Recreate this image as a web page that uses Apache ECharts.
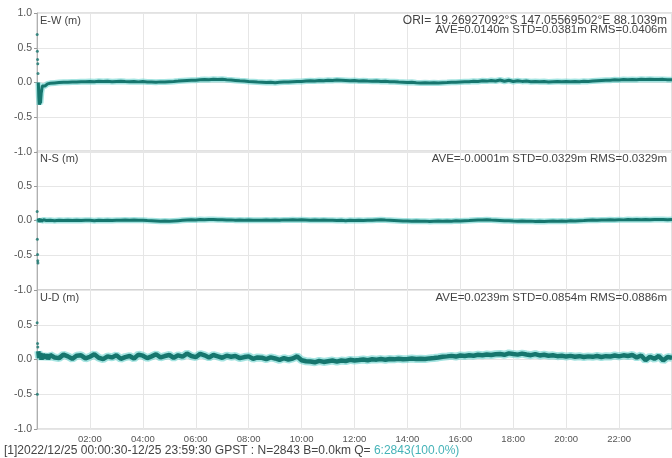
<!DOCTYPE html>
<html>
<head>
<meta charset="utf-8">
<script src="https://cdn.jsdelivr.net/npm/echarts@6/dist/echarts.min.js"></script>
<style>
  html, body { margin: 0; padding: 0; background: #ffffff; }
  #chart { width: 672px; height: 458px; }
</style>
</head>
<body>
<div id="chart"></div>
<script>
// Position solution, 2022/12/25, components in metres versus GPST hours.
const panelNames = ['E-W (m)', 'N-S (m)', 'U-D (m)'];
const statLines = [
  ['ORI= 19.26927092°S 147.05569502°E 88.1039m', 'AVE=0.0140m STD=0.0381m RMS=0.0406m'],
  ['AVE=-0.0001m STD=0.0329m RMS=0.0329m'],
  ['AVE=0.0239m STD=0.0854m RMS=0.0886m']
];
const yTicks = [-1.0, -0.5, 0.0, 0.5, 1.0];
const xTickHours = [2, 4, 6, 8, 10, 12, 14, 16, 18, 20, 22];
const footerText = '[1]2022/12/25 00:00:30-12/25 23:59:30 GPST : N=2843 B=0.0km Q= ';
const footerQuality = '6:2843(100.0%)';

// Regular samples: first at 00:30, then every 10 minutes up to 24:00.
const sampleStart = 0.5;
const sampleStep = 1 / 6;

// Convergence period at the start of the day: [hour, metres]
const ewEarlyDots = [[0.006, 0.69], [0.014, 0.45], [0.022, 0.33], [0.030, 0.27], [0.038, 0.13]];
const ewEarlyLine = [[0.05, 0.0], [0.07, -0.2], [0.09, -0.32], [0.11, -0.25], [0.13, -0.3],
  [0.16, -0.15], [0.2, -0.05], [0.25, -0.03], [0.3, -0.05], [0.4, -0.02]];
const ewValues = [
  -0.012, -0.006, 0.000, 0.004, 0.002, 0.008,
  0.006, 0.012, 0.010, 0.015, 0.012, 0.018,
  0.014, 0.017, 0.012, 0.016, 0.019, 0.013,
  0.010, 0.014, 0.009, 0.013, 0.008, 0.006,
  0.004, 0.009, 0.006, 0.012, 0.015, 0.020,
  0.026, 0.030, 0.034, 0.031, 0.038, 0.042,
  0.040, 0.046, 0.043, 0.048, 0.041, 0.036,
  0.030, 0.024, 0.020, 0.014, 0.010, 0.006,
  0.004, 0.000, 0.003, -0.002, 0.002, 0.006,
  0.008, 0.012, 0.016, 0.014, 0.020, 0.024,
  0.022, 0.028, 0.026, 0.032, 0.030, 0.036,
  0.034, 0.030, 0.026, 0.028, 0.022, 0.024,
  0.020, 0.018, 0.021, 0.015, 0.017, 0.012,
  0.010, 0.006, 0.004, 0.000, 0.002, -0.004,
  -0.006, -0.002, -0.007, -0.004, -0.008, -0.003,
  0.000, 0.004, 0.002, 0.008, 0.012, 0.010,
  0.018, 0.014, 0.024, 0.020, 0.030, 0.022,
  0.036, 0.018, 0.032, 0.014, 0.026, 0.016,
  0.020, 0.012, 0.016, 0.010, 0.014, 0.008,
  0.012, 0.016, 0.010, 0.014, 0.011, 0.015,
  0.012, 0.018, 0.016, 0.022, 0.026, 0.030,
  0.034, 0.032, 0.038, 0.036, 0.042, 0.040,
  0.044, 0.041, 0.046, 0.043, 0.047, 0.044,
  0.042, 0.045, 0.040, 0.038
];

const nsEarlyDots = [[0.006, 0.13], [0.014, -0.27], [0.022, -0.49], [0.030, -0.58], [0.036, -0.61]];
const nsEarlyLine = [[0.05, 0.03], [0.08, -0.02], [0.12, 0.02], [0.17, -0.01], [0.25, 0.01], [0.35, 0.0]];
const nsValues = [
  0.004, -0.002, 0.003, 0.000, 0.005, 0.001,
  0.003, -0.001, 0.004, 0.002, -0.002, 0.003,
  0.000, 0.004, 0.001, 0.005, 0.002, 0.006,
  0.003, 0.007, 0.002, 0.004, 0.000, -0.003,
  -0.006, -0.010, -0.008, -0.012, -0.006, -0.002,
  0.002, 0.006, 0.010, 0.008, 0.014, 0.012,
  0.016, 0.013, 0.010, 0.012, 0.007, 0.009,
  0.005, 0.008, 0.004, 0.006, 0.002, 0.005,
  0.003, 0.007, 0.004, 0.008, 0.005, 0.009,
  0.006, 0.010, 0.007, 0.011, 0.008, 0.005,
  0.007, 0.003, 0.006, 0.002, 0.004, 0.000,
  0.003, -0.002, 0.002, 0.000, 0.004, 0.001,
  0.005, 0.002, 0.007, 0.010, 0.006, 0.003,
  0.000, -0.004, -0.008, -0.006, -0.010, -0.008,
  -0.012, -0.009, -0.013, -0.010, -0.008, -0.011,
  -0.007, -0.010, -0.005, -0.008, -0.003, 0.000,
  0.004, 0.008, 0.006, 0.011, 0.007, 0.004,
  0.000, -0.004, -0.002, -0.007, -0.010, -0.008,
  -0.012, -0.009, -0.013, -0.010, -0.014, -0.011,
  -0.008, -0.012, -0.007, -0.010, -0.005, -0.008,
  -0.004, -0.001, 0.003, 0.006, 0.004, 0.008,
  0.006, 0.010, 0.008, 0.012, 0.009, 0.013,
  0.010, 0.014, 0.011, 0.015, 0.012, 0.016,
  0.013, 0.015, 0.012, 0.014
];

const udEarlyDots = [[0.006, 0.53], [0.014, -0.5], [0.022, 0.23], [0.030, 0.18]];
const udEarlyLine = [[0.05, 0.12], [0.08, 0.02], [0.12, 0.09], [0.17, 0.0], [0.22, 0.08],
  [0.28, 0.02], [0.35, 0.07], [0.42, 0.01]];
const udValues = [
  0.065, 0.030, 0.020, 0.070, 0.045, 0.010,
  0.055, 0.060, 0.015, 0.040, 0.075, 0.025,
  0.005, 0.045, 0.030, 0.060, 0.010, 0.035,
  0.050, 0.015, 0.070, 0.055, 0.020, 0.045,
  0.075, 0.030, 0.050, 0.065, 0.025, 0.060,
  0.040, 0.085, 0.050, 0.035, 0.080, 0.060,
  0.030, 0.065, 0.045, 0.025, 0.055, 0.040,
  0.050, 0.020, 0.035, 0.045, 0.010, 0.030,
  0.025, 0.005, 0.030, 0.015, -0.005, 0.020,
  0.000, 0.015, 0.045, -0.010, -0.025, -0.030,
  -0.040, -0.020, -0.035, -0.025, -0.015, -0.030,
  -0.015, -0.022, -0.005, -0.015, -0.008, 0.000,
  -0.010, 0.004, -0.002, 0.006, -0.004, 0.008,
  0.002, 0.012, 0.004, 0.008, 0.014, 0.006,
  0.012, 0.006, 0.016, 0.022, 0.030, 0.040,
  0.045, 0.052, 0.042, 0.058, 0.050, 0.062,
  0.055, 0.068, 0.060, 0.072, 0.064, 0.075,
  0.080, 0.068, 0.088, 0.078, 0.070, 0.085,
  0.072, 0.062, 0.078, 0.058, 0.068, 0.055,
  0.060, 0.048, 0.055, 0.042, 0.052, 0.040,
  0.048, 0.035, 0.045, 0.038, 0.050, 0.036,
  0.048, 0.042, 0.058, 0.045, 0.060, 0.050,
  0.065, 0.030, 0.058, -0.010, 0.040, 0.010,
  0.050, -0.015, 0.035, 0.025
];

const panels = [
  { early: ewEarlyLine, dots: ewEarlyDots, values: ewValues, core: 3, halo: 6 },
  { early: nsEarlyLine, dots: nsEarlyDots, values: nsValues, core: 3, halo: 6 },
  { early: udEarlyLine, dots: udEarlyDots, values: udValues, core: 4.5, halo: 8 }
];

function buildTrace(p) {
  const pts = p.early.map(d => [d[0], d[1]]);
  p.values.forEach((v, i) => pts.push([sampleStart + i * sampleStep, v]));
  return pts;
}

const FONT = 'Liberation Sans';
const labelColor = '#555555';
const textColor = '#444444';
const coreColor = '#16766e';
const haloColor = 'rgba(90, 205, 200, 0.55)';

const gridTops = [13, 151, 290];
const gridH = 139;

const grids = gridTops.map(t => ({
  left: 37, right: -1, top: t, height: gridH,
  show: true, borderColor: '#c4c4c4', borderWidth: 1, backgroundColor: '#ffffff'
}));

const xAxes = gridTops.map((t, i) => ({
  type: 'value', gridIndex: i, min: 0, max: 24, interval: 2,
  axisLine: { show: false },
  axisTick: { show: false },
  splitLine: { show: true, lineStyle: { color: '#e6e6e6', width: 1 } },
  axisLabel: {
    show: i === 2, showMinLabel: false, showMaxLabel: false,
    color: labelColor, fontFamily: FONT, fontSize: 9.5, margin: 5,
    formatter: v => xTickHours.indexOf(v) >= 0 ? String(v).padStart(2, '0') + ':00' : ''
  }
}));

const yAxes = gridTops.map((t, i) => ({
  type: 'value', gridIndex: i, min: yTicks[0], max: yTicks[yTicks.length - 1], interval: 0.5,
  axisLine: { show: true, lineStyle: { color: '#b0b0b0' } },
  axisTick: { show: true, length: 3, lineStyle: { color: '#999' } },
  splitLine: { show: true, lineStyle: { color: '#e6e6e6', width: 1 } },
  axisLabel: {
    color: labelColor, fontFamily: FONT, fontSize: 10.5, margin: 5,
    showMaxLabel: i === 0,
    formatter: v => v.toFixed(1)
  }
}));

const series = [];
panels.forEach((p, i) => {
  const trace = buildTrace(p);
  series.push({
    type: 'line', xAxisIndex: i, yAxisIndex: i, data: trace,
    showSymbol: false, silent: true, animation: false,
    lineStyle: { color: haloColor, width: p.halo }
  });
  series.push({
    type: 'line', xAxisIndex: i, yAxisIndex: i, data: trace,
    showSymbol: false, silent: true, animation: false,
    lineStyle: { color: coreColor, width: p.core }
  });
  series.push({
    type: 'scatter', xAxisIndex: i, yAxisIndex: i, data: p.dots,
    symbolSize: 3, silent: true, animation: false,
    itemStyle: { color: coreColor }
  });
});

const graphics = [];
panelNames.forEach((name, i) => {
  graphics.push({
    type: 'text', left: 40, top: gridTops[i] + 2, z: 100,
    style: { text: name, fill: textColor, font: '11px "' + FONT + '"' }
  });
  statLines[i].forEach((line, k) => {
    graphics.push({
      type: 'text', right: 5, top: gridTops[i] + 2 + k * 9, z: 100,
      style: { text: line, fill: textColor, font: (k === 0 && i === 0 ? '12px' : '11.5px') + ' "' + FONT + '"', textAlign: 'right' }
    });
  });
});
graphics.push({
  type: 'text', left: 4, top: 445, z: 100,
  style: {
    text: '{a|' + footerText + '}{b|' + footerQuality + '}',
    rich: {
      a: { fill: textColor, font: '12px "' + FONT + '"' },
      b: { fill: '#45b3b8', font: '12px "' + FONT + '"' }
    }
  }
});

const chart = echarts.init(document.getElementById('chart'), null, { renderer: 'canvas' });
chart.setOption({
  backgroundColor: '#ffffff',
  animation: false,
  grid: grids,
  xAxis: xAxes,
  yAxis: yAxes,
  series: series,
  graphic: graphics
});
</script>
</body>
</html>
